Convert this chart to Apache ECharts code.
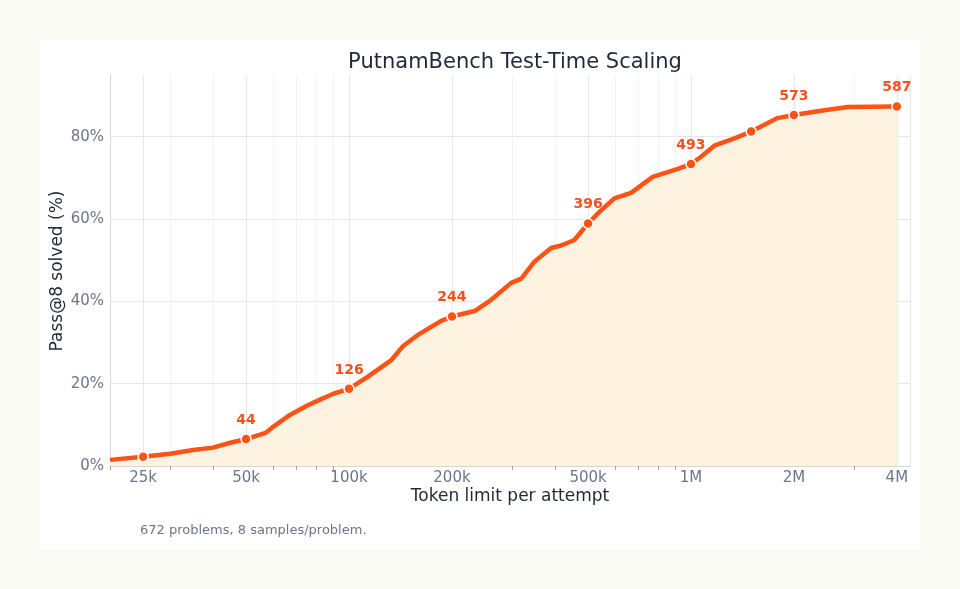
<!DOCTYPE html>
<html>
<head>
<meta charset="utf-8">
<script src="https://cdn.jsdelivr.net/npm/echarts@6/dist/echarts.min.js"></script>
<style>
    html, body { margin:0; padding:0; background:#fbfbf6; }
    #card { position:absolute; left:40px; top:40px; width:880px; height:509px; background:#fff; }
    #chart { position:absolute; left:0; top:0; width:960px; height:589px; }
</style>
</head>
<body>
<div id="card"></div>
<div id="chart"></div>
<script>
// token limit per attempt / problems solved (out of 672)
const TOTAL = 672;
const tokens = [20000, 25000, 30000, 35000, 40000, 45000, 50000, 57000, 60000, 67000, 75000, 82000, 90000,
    100000, 113000, 133000, 144000, 159000, 186000, 200000, 233000, 260000, 298000, 319000, 349000, 390000,
    417000, 456000, 500000, 540000, 597000, 668000, 773000, 915000, 1000000, 1070000, 1170000, 1340000,
    1500000, 1640000, 1790000, 2000000, 2400000, 2870000, 4000000];
const solved = [10, 15, 20, 26, 30, 38, 44, 54, 64, 83, 98, 108, 118,
    126, 145, 173, 196, 214, 237, 244, 253, 271, 299, 306, 334, 356,
    360, 369, 396, 415, 437, 446, 472, 485, 493, 505, 523, 535,
    546, 557, 568, 573, 580, 586, 587];

// highlighted points
const markTokens = [25000, 50000, 100000, 200000, 500000, 1000000, 1500000, 2000000, 4000000];
const markSolved = [15, 44, 126, 244, 396, 493, 546, 573, 587];
const markLabels = ['', '44', '126', '244', '396', '493', '', '573', '587'];

const majorTicks = [25000, 50000, 100000, 200000, 500000, 1000000, 2000000, 4000000];
const minorTicks = [20000, 30000, 40000, 60000, 70000, 80000, 90000, 300000, 400000,
    600000, 700000, 800000, 900000, 3000000];

const ORANGE = '#ff5316';
const FONT = 'DejaVu Sans';

function fmtTok(v){
    if ( v >= 1000000 ) return (v / 1000000) + 'M';
    return (v / 1000) + 'k';
}

const lineData = tokens.map((t, i) => [t, solved[i] / TOTAL * 100]);
const markData = markTokens.map((t, i) => ({
    value:[t, markSolved[i] / TOTAL * 100],
    label:{ formatter: markLabels[i] }
}));

let myChart = echarts.init(document.getElementById('chart'));
let option = {
    animation:false,
    textStyle:{ fontFamily:FONT },
    title:{
        text:'PutnamBench Test-Time Scaling',
        left:510,
        top:47,
        textAlign:'center',
        textStyle:{ fontSize:21, fontWeight:'normal', color:'#1f2937', fontFamily:FONT }
    },
    grid:{ left:110, right:50, top:75, bottom:123 },
    xAxis:[{
        type:'log',
        logBase:10,
        min:20000,
        max:4370000,
        axisLine:{ show:true, lineStyle:{ color:'#d4d6da' } },
        axisTick:{ show:false },
        axisLabel:{ customValues:majorTicks, formatter:fmtTok, color:'#6b7689', fontSize:15, margin:5, fontFamily:FONT },
        splitLine:{ show:true, lineStyle:{ color:'#e6e7ea', width:1 } },
        minorTick:{ show:false },
        minorSplitLine:{ show:false }
    }, {
        type:'log',
        logBase:10,
        min:20000,
        max:4370000,
        position:'bottom',
        axisLine:{ show:false },
        axisTick:{ show:true, customValues:minorTicks, length:4, lineStyle:{ color:'#9aa0a8' } },
        axisLabel:{ show:false, customValues:minorTicks },
        splitLine:{ show:true, lineStyle:{ color:'#f2f3f5', width:1 } }
    }, {
        type:'log',
        logBase:10,
        min:20000,
        max:4370000,
        position:'bottom',
        axisLine:{ show:false },
        axisTick:{ show:false, customValues:majorTicks },
        axisLabel:{ show:false, customValues:majorTicks },
        splitLine:{ show:true, lineStyle:{ color:'#e6e7ea', width:1 } }
    }],
    yAxis:{
        type:'value',
        min:0,
        max:95,
        interval:20,
        axisLine:{ show:true, lineStyle:{ color:'#d4d6da' } },
        axisTick:{ show:false },
        axisLabel:{ formatter:'{value}%', color:'#6b7689', fontSize:15, margin:6, showMaxLabel:false, fontFamily:FONT },
        splitLine:{ show:true, showMaxLine:false, lineStyle:{ color:'#e6e7ea' } }
    },
    graphic:[{
        type:'text',
        x:510,
        y:497,
        style:{ text:'Token limit per attempt', fill:'#1f2937', fontSize:17, fontFamily:FONT,
            textAlign:'center', textVerticalAlign:'middle' }
    }, {
        type:'text',
        x:58,
        y:271,
        rotation:Math.PI / 2,
        style:{ text:'Pass@8 solved (%)', fill:'#1f2937', fontSize:17, fontFamily:FONT,
            textAlign:'center', textVerticalAlign:'middle' }
    }, {
        type:'text',
        left:140,
        top:524,
        style:{ text:'672 problems, 8 samples/problem.', fill:'#6b7689', fontSize:13, fontFamily:FONT }
    }],
    series:[{
        type:'line',
        xAxisIndex:0,
        data:lineData,
        showSymbol:false,
        lineStyle:{ color:ORANGE, width:4.5 },
        itemStyle:{ color:ORANGE },
        areaStyle:{ color:'#fef3e1', opacity:1 },
        z:3
    }, {
        type:'scatter',
        xAxisIndex:0,
        data:markData,
        symbol:'circle',
        symbolSize:10,
        itemStyle:{ color:ORANGE, borderColor:'#fff', borderWidth:1.5, opacity:1 },
        label:{
            show:true,
            position:'top',
            distance:6,
            color:'#f4511e',
            fontSize:14,
            fontWeight:'bold',
            fontFamily:FONT
        },
        z:4
    }]
};
myChart.setOption(option);
</script>
</body>
</html>
